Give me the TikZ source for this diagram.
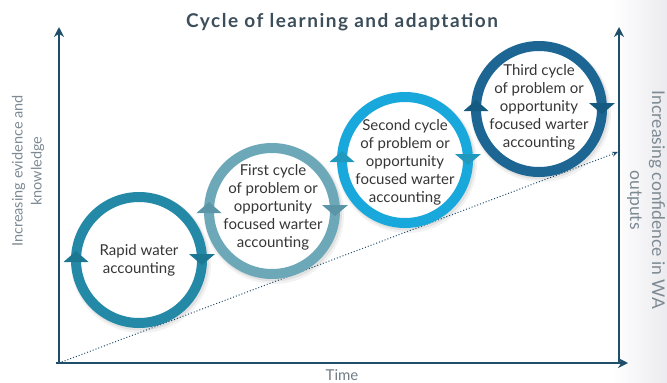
\documentclass[tikz,border=0pt]{standalone}
\usepackage{fontspec}
\setmainfont{Lato}
\usetikzlibrary{arrows.meta,calc}
\definecolor{axisc}{HTML}{1F4E6B}
\definecolor{titlec}{HTML}{3C4E5A}
\definecolor{labc}{HTML}{7D8A93}
\definecolor{txtc}{HTML}{363636}
\definecolor{ringA}{HTML}{2389A6}
\definecolor{arrA}{HTML}{1C7892}
\definecolor{ringB}{HTML}{6CA8B8}
\definecolor{arrB}{HTML}{5A96A8}
\definecolor{ringC}{HTML}{18A8DC}
\definecolor{arrC}{HTML}{2198BD}
\definecolor{ringD}{HTML}{1D6592}
\definecolor{arrD}{HTML}{155A80}
\definecolor{sidegray}{HTML}{EBEBEF}
\tikzset{
  ring/.style={circle, draw=#1, line width=10pt, minimum size=126pt, inner sep=0pt, outer sep=0pt, fill=white},
  ringtext/.style={align=center, font=\fontsize{15}{18}\selectfont, text=txtc},
  axisline/.style={draw=axisc, line width=2pt},
  axlabel/.style={align=center, text=labc}
}
\newcommand{\ringshadow}[1]{%
  \draw[line width=14pt, black, opacity=0.05] ($(#1)+(2,3)$) circle (63);
  \draw[line width=11pt, black, opacity=0.07] ($(#1)+(1.5,2)$) circle (63);
}
\newcommand{\cyclearrows}[2]{%
  \fill[#2] ($(#1.west)+(-12.5,2)$) -- ($(#1.west)+(12.5,2)$) -- ($(#1.west)+(0,-9)$) -- cycle;
  \fill[#2] ($(#1.east)+(-13,-6)$) -- ($(#1.east)+(13,-6)$) -- ($(#1.east)+(0,5)$) -- cycle;
}
\begin{document}
\begin{tikzpicture}[x=1pt,y=-1pt]
\useasboundingbox (0,0) rectangle (667,383);
\shade[left color=white, right color=sidegray] (612,0) rectangle (667,383);

% title
\node[font=\fontsize{19}{22}\bfseries\addfontfeature{LetterSpace=8}, text=titlec] (title) at (342,22) {Cycle of learning and adaptation};

% axes
\coordinate (O) at (59,363);
\coordinate (xstart) at (56,363);
\coordinate (xend) at (628,363);
\coordinate (ytop) at (59,27);
\coordinate (rbot) at (619,363);
\coordinate (rtop) at (619,27);
\coordinate (dotend) at (618,152);
\draw[axisline, -{Stealth[length=10pt,width=10pt]}] (O) -- (ytop);
\draw[axisline, -{Stealth[length=10pt,width=10pt]}] (rbot) -- (rtop);
\draw[axisline, -{Stealth[length=10pt,width=10pt]}] (xstart) -- (xend);
\draw[axisc, line width=1pt, dotted, -{Stealth[length=6pt,width=5pt]}] (O) -- (dotend);

% axis labels
\node[axlabel, rotate=90, font=\fontsize{14.5}{19}\selectfont] (ylab) at (28,171) {Increasing evidence and\\knowledge};
\node[axlabel, rotate=-90, font=\fontsize{17.5}{22}\selectfont] (rlab) at (646,200) {Increasing confidence in WA\\outputs};
\node[text=labc!90!black, font=\fontsize{15}{18}\selectfont] (time) at (342,375) {Time};

% circle centers
\coordinate (pA) at (139,260);
\coordinate (pB) at (272,211);
\coordinate (pC) at (405,160);
\coordinate (pD) at (539,109);

\ringshadow{pA}
\node[ring=ringA] (cA) at (pA) {};
\cyclearrows{cA}{arrA}
\node[ringtext] (tA) at (pA) {Rapid water\\accounting};

\ringshadow{pB}
\node[ring=ringB] (cB) at (pB) {};
\cyclearrows{cB}{arrB}
\node[ringtext] (tB) at ($(pB)+(1,-4)$) {First cycle\\of problem or\\opportunity\\focused warter\\accounting};

\ringshadow{pC}
\node[ring=ringC] (cC) at (pC) {};
\cyclearrows{cC}{arrC}
\node[ringtext] (tC) at ($(pC)+(0,2)$) {Second cycle\\of problem or\\opportunity\\focused warter\\accounting};

\ringshadow{pD}
\node[ring=ringD] (cD) at (pD) {};
\cyclearrows{cD}{arrD}
\node[ringtext] (tD) at ($(pD)+(0,-2)$) {Third cycle\\of problem or\\opportunity\\focused warter\\accounting};
\end{tikzpicture}
\end{document}
